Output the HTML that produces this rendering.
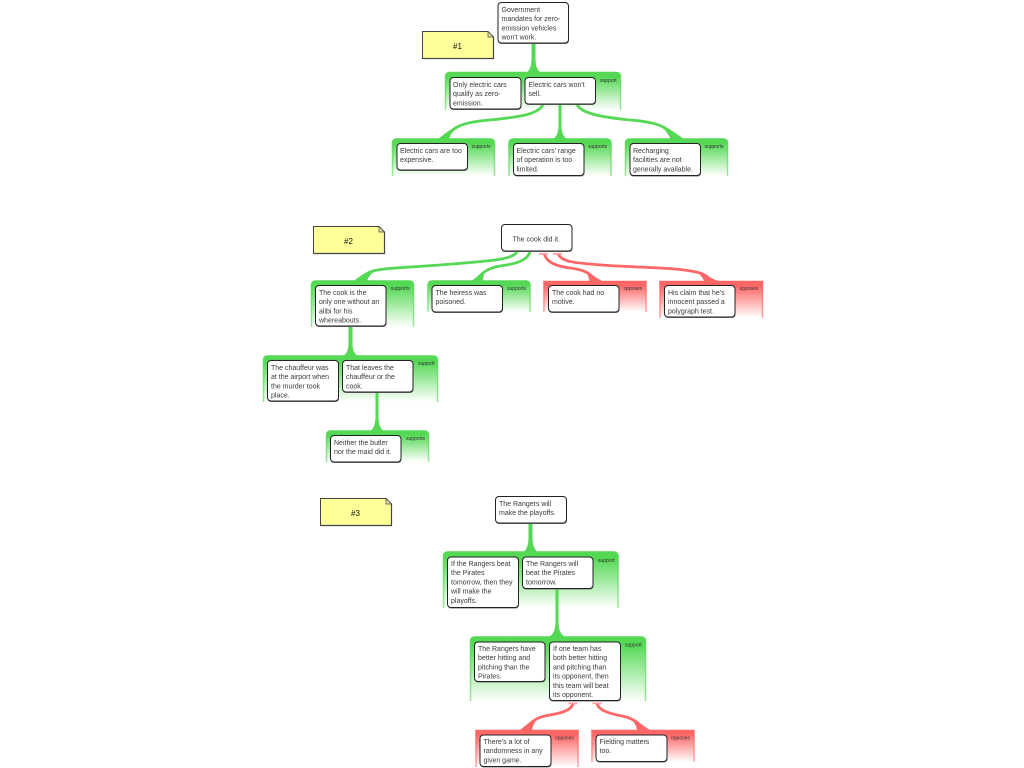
<!DOCTYPE html>
<html>
<head>
<meta charset="utf-8">
<style>
html,body{margin:0;padding:0;background:#fff;width:1024px;height:768px;overflow:hidden}
svg{display:block}
text{font-family:"Liberation Sans",sans-serif}
.t{font-size:7px;fill:#3a3a3a}
.l{font-size:5px;fill:#333}
.n{font-size:8px;fill:#111;text-anchor:middle}
.b{fill:#fff;stroke:#222;stroke-width:1}
.s{fill:#777}
.gg{fill:url(#gf);stroke:url(#gs);stroke-width:1.5}
.gr{fill:url(#rf);stroke:url(#rs);stroke-width:1.5}
.cg{fill:#55d955}
.cr{fill:#ff6666}
.lg{fill:none;stroke:#55d955;stroke-width:2.8}
.lr{fill:none;stroke:#ff6666;stroke-width:2.8}
.bar{fill:#ffa0a0}
.note{fill:#ffff99;stroke:#444;stroke-width:1}
</style>
</head>
<body>
<svg width="1024" height="768" viewBox="0 0 1024 768" xmlns="http://www.w3.org/2000/svg">
<defs>
<linearGradient id="gf" x1="0" y1="0" x2="0" y2="1"><stop offset="0" stop-color="#55d955"/><stop offset=".12" stop-color="#55d955"/><stop offset="1" stop-color="#fff"/></linearGradient>
<linearGradient id="rf" x1="0" y1="0" x2="0" y2="1"><stop offset="0" stop-color="#ff6666"/><stop offset=".12" stop-color="#ff6666"/><stop offset="1" stop-color="#fff"/></linearGradient>
<linearGradient id="gs" x1="0" y1="0" x2="0" y2="1"><stop offset="0" stop-color="#55d955"/><stop offset="1" stop-color="#99e899"/></linearGradient>
<linearGradient id="rs" x1="0" y1="0" x2="0" y2="1"><stop offset="0" stop-color="#ff6666"/><stop offset="1" stop-color="#ffa5a5"/></linearGradient>
</defs>

<!-- Notes -->
<path class="note" d="M422.5 31.5H488L493.5 37V58.5H422.5Z"/><path d="M488 31.5V37H493.5Z" fill="#e4e4a0" stroke="#444" stroke-width=".7"/>
<path d="M423 58.5H493.5V37" fill="none" stroke="#444" stroke-width="1.2"/>
<text class="n" x="457.5" y="49">#1</text>
<path class="note" d="M313.5 226.5H379L384.5 232V253.5H313.5Z"/><path d="M379 226.5V232H384.5Z" fill="#e4e4a0" stroke="#444" stroke-width=".7"/>
<path d="M314 253.5H384.5V232" fill="none" stroke="#444" stroke-width="1.2"/>
<text class="n" x="348.5" y="244">#2</text>
<path class="note" d="M320.5 498.5H386L391.5 504V525.5H320.5Z"/><path d="M386 498.5V504H391.5Z" fill="#e4e4a0" stroke="#444" stroke-width=".7"/>
<path d="M321 525.5H391.5V504" fill="none" stroke="#444" stroke-width="1.2"/>
<text class="n" x="355.5" y="516">#3</text>

<!-- Groups: tree 1 -->
<path class="gg" d="M445.5 110V77Q445.5 72.5 450 72.5H616Q620.5 72.5 620.5 77V110"/>
<path class="gg" d="M392.5 176V143.5Q392.5 139 397 139H490Q494.5 139 494.5 143.5V176"/>
<path class="gg" d="M509 176V143.5Q509 139 513.5 139H606.5Q611 139 611 143.5V176"/>
<path class="gg" d="M625.5 176V143.5Q625.5 139 630 139H723Q727.5 139 727.5 143.5V176"/>

<!-- Groups: tree 2 -->
<path class="gg" d="M311.5 327V285.5Q311.5 281 316 281H409Q413.5 281 413.5 285.5V327"/>
<path class="gg" d="M428 312V285.5Q428 281 432.5 281H525.5Q530 281 530 285.5V312"/>
<path class="gr" d="M544 312V281.5H646V312"/>
<path class="gr" d="M660 318V281.5H762.5V318"/>
<path class="gg" d="M263.5 402V360.5Q263.5 356 268 356H433Q437.5 356 437.5 360.5V402"/>
<path class="gg" d="M326.5 462V435.5Q326.5 431 331 431H424Q428.5 431 428.5 435.5V462"/>

<!-- Groups: tree 3 -->
<path class="gg" d="M443.5 608V556.5Q443.5 552 448 552H613.5Q618 552 618 556.5V608"/>
<path class="gg" d="M470.5 701V641.5Q470.5 637 475 637H641Q645.5 637 645.5 641.5V701"/>
<path class="gr" d="M476 767V730.5H578V767"/>
<path class="gr" d="M592 762V730.5H694V762"/>

<!-- Vertical connectors -->
<g class="cg">
<path d="M531.5 43H535.5V58C535.5 66 537 70 541 73H526C530 70 531.5 66 531.5 58Z"/>
<path d="M558.5 104H561.5V125C561.5 132 563 136 567 139.5H553C557 136 558.5 132 558.5 125Z"/>
<path d="M348.5 327H352.5V342C352.5 350 354 353 358 356.5H343C347 353 348.5 350 348.5 342Z"/>
<path d="M375.5 393H378.5V416C378.5 424 380 428 384 431.5H370C374 428 375.5 424 375.5 416Z"/>
<path d="M528.5 523H532.5V537C532.5 545 534 549 538 552.5H523C527 549 528.5 545 528.5 537Z"/>
<path d="M555.5 589H558.5V620C558.5 630 560 634 566 637.5H548C554 634 555.5 630 555.5 620Z"/>
</g>

<!-- Curved connectors -->
<g>
<path class="lg" d="M543 104C540 114 520 117 490 120C465 122 452 126 445 139"/>
<path class="cg" d="M461 125.4C452 127 445 134 437 139.5H449C450 134 455 129 461 125.4Z"/>
<path class="lg" d="M577 104C580 113 600 117 630 120C655 122 668 126 677 139"/>
<path class="cg" d="M659.5 125.4C668 127 675 133 685 139.5H671C668 134 665 129 659.5 125.4Z"/>
<path class="lg" d="M517 252C512 260 490 261 440 265C400 268 380 268 370 272C365 274 360 278 356 281"/>
<path class="cg" d="M376 270.3C368 272 362 277 352 281.5H367C368 277 372 273 376 270.3Z"/>
<path class="lg" d="M530 252C527 261 515 264 500 266C488 268 481 273 476 281"/>
<path class="cg" d="M485.4 271.3C480 273 477 277 471 281.5H483C483 277 484 274 485.4 271.3Z"/>
<path class="lr" d="M544 253C546 262 555 266 570 268C582 269.5 590 272 596 281"/>
<path class="cr" d="M585 271.6C590 273 595 277 603 281.5H589.5C589 277 587.5 274 585 271.6Z"/>
<path class="lr" d="M558 253C560 262 575 263 602 265C640 268 680 267 700 273C706 275 709 278 711 281"/>
<path class="cr" d="M697 272C704 274 711 278 719 281.5H704.5C703 278 700 274.5 697 272Z"/>
<path class="lr" d="M573 703C572 712 555 714 545 716C535 718 529 724 526 730"/>
<path class="cr" d="M538.3 718.3C530 720 525 727 519 730.5H532C532.5 726 535 721 538.3 718.3Z"/>
<path class="lr" d="M597 703C598 711 612 714 622 716C633 718 640 724 644 730"/>
<path class="cr" d="M629.8 718.3C638 720 644 727 651 730.5H637C636.5 726 634 721 629.8 718.3Z"/>
</g>
<g class="bar">
<rect x="539" y="253" width="9" height="1.8"/>
<rect x="553" y="253" width="9" height="1.8"/>
<rect x="568.5" y="702.5" width="9" height="1.8"/>
<rect x="592.5" y="702.5" width="9" height="1.8"/>
</g>

<!-- Group labels -->
<g class="l">
<text x="600" y="82">support</text>
<text x="471.5" y="148">supports</text>
<text x="588" y="148">supports</text>
<text x="704.5" y="148">supports</text>
<text x="390.5" y="290">supports</text>
<text x="507" y="290">supports</text>
<text x="623.5" y="290">opposes</text>
<text x="739.5" y="290">opposes</text>
<text x="418" y="365">support</text>
<text x="406" y="440">supports</text>
<text x="598" y="562">support</text>
<text x="625" y="646.5">support</text>
<text x="555" y="739.5">opposes</text>
<text x="671" y="739.5">opposes</text>
</g>

<!-- Boxes -->
<g>
<rect class="s" x="498" y="3" width="71" height="41" rx="3.5"/><rect class="b" x="498" y="2.5" width="70.5" height="40.5" rx="3.5"/>
<rect class="s" x="450" y="78" width="71.5" height="32" rx="3.5"/><rect class="b" x="450" y="77.5" width="71" height="31.5" rx="3.5"/>
<rect class="s" x="525" y="78" width="71" height="27" rx="3.5"/><rect class="b" x="525" y="77.5" width="70.5" height="26.5" rx="3.5"/>
<rect class="s" x="397" y="144" width="71" height="27" rx="3.5"/><rect class="b" x="397" y="143.5" width="70.5" height="26.5" rx="3.5"/>
<rect class="s" x="513.5" y="144" width="71" height="32.5" rx="3.5"/><rect class="b" x="513.5" y="143.5" width="70.5" height="32" rx="3.5"/>
<rect class="s" x="630" y="144" width="71" height="32.5" rx="3.5"/><rect class="b" x="630" y="143.5" width="70.5" height="32" rx="3.5"/>
<rect class="s" x="501.5" y="225" width="71" height="27" rx="3.5"/><rect class="b" x="501.5" y="224.5" width="70.5" height="26.5" rx="3.5"/>
<rect class="s" x="315.5" y="286" width="71" height="41" rx="3.5"/><rect class="b" x="315.5" y="285.5" width="70.5" height="40.5" rx="3.5"/>
<rect class="s" x="432" y="286" width="71" height="27" rx="3.5"/><rect class="b" x="432" y="285.5" width="70.5" height="26.5" rx="3.5"/>
<rect class="s" x="548.5" y="286" width="71" height="27" rx="3.5"/><rect class="b" x="548.5" y="285.5" width="70.5" height="26.5" rx="3.5"/>
<rect class="s" x="664.5" y="286" width="71" height="32" rx="3.5"/><rect class="b" x="664.5" y="285.5" width="70.5" height="31.5" rx="3.5"/>
<rect class="s" x="267.5" y="361" width="71.5" height="41" rx="3.5"/><rect class="b" x="267.5" y="360.5" width="71" height="40.5" rx="3.5"/>
<rect class="s" x="342.5" y="361" width="71" height="32" rx="3.5"/><rect class="b" x="342.5" y="360.5" width="70.5" height="31.5" rx="3.5"/>
<rect class="s" x="330.5" y="436" width="71" height="27" rx="3.5"/><rect class="b" x="330.5" y="435.5" width="70.5" height="26.5" rx="3.5"/>
<rect class="s" x="495.5" y="497" width="71.5" height="27" rx="3.5"/><rect class="b" x="495.5" y="496.5" width="71" height="26.5" rx="3.5"/>
<rect class="s" x="447.5" y="557.5" width="71.5" height="51" rx="3.5"/><rect class="b" x="447.5" y="557" width="71" height="50.5" rx="3.5"/>
<rect class="s" x="522.5" y="557.5" width="71" height="32" rx="3.5"/><rect class="b" x="522.5" y="557" width="70.5" height="31.5" rx="3.5"/>
<rect class="s" x="474.5" y="642.5" width="71" height="40" rx="3.5"/><rect class="b" x="474.5" y="642" width="70.5" height="39.5" rx="3.5"/>
<rect class="s" x="549.5" y="642.5" width="71.5" height="59" rx="3.5"/><rect class="b" x="549.5" y="642" width="71" height="58.5" rx="3.5"/>
<rect class="s" x="480" y="735.5" width="71.5" height="32" rx="3.5"/><rect class="b" x="480" y="735" width="71" height="31.5" rx="3.5"/>
<rect class="s" x="596" y="735.5" width="71.5" height="27" rx="3.5"/><rect class="b" x="596" y="735" width="71" height="26.5" rx="3.5"/>
</g>

<!-- Box text -->
<g class="t">
<text x="501.5" y="12">Government</text><text x="501.5" y="21.2">mandates for zero-</text><text x="501.5" y="30.4">emission vehicles</text><text x="501.5" y="39.6">won't work.</text>
<text x="453" y="87">Only electric cars</text><text x="453" y="96.2">qualify as zero-</text><text x="453" y="105.4">emission.</text>
<text x="528.5" y="87">Electric cars won't</text><text x="528.5" y="96.2">sell.</text>
<text x="400" y="153">Electric cars are too</text><text x="400" y="162.2">expensive.</text>
<text x="516.5" y="153">Electric cars' range</text><text x="516.5" y="162.2">of operation is too</text><text x="516.5" y="171.4">limited.</text>
<text x="633" y="153">Recharging</text><text x="633" y="162.2">facilities are not</text><text x="633" y="171.4">generally available.</text>
<text x="512.5" y="241.5">The cook did it.</text>
<text x="319" y="295">The cook is the</text><text x="319" y="304.2">only one without an</text><text x="319" y="313.4">alibi for his</text><text x="319" y="322.6">whereabouts.</text>
<text x="435.5" y="295">The heiress was</text><text x="435.5" y="304.2">poisoned.</text>
<text x="552" y="295">The cook had no</text><text x="552" y="304.2">motive.</text>
<text x="668" y="295">His claim that he's</text><text x="668" y="304.2">innocent passed a</text><text x="668" y="313.4">polygraph test.</text>
<text x="271" y="370">The chauffeur was</text><text x="271" y="379.2">at the airport when</text><text x="271" y="388.4">the murder took</text><text x="271" y="397.6">place.</text>
<text x="346" y="370">That leaves the</text><text x="346" y="379.2">chauffeur or the</text><text x="346" y="388.4">cook.</text>
<text x="334" y="445">Neither the butler</text><text x="334" y="454.2">nor the maid did it.</text>
<text x="499" y="506">The Rangers will</text><text x="499" y="515.2">make the playoffs.</text>
<text x="451" y="566">If the Rangers beat</text><text x="451" y="575.2">the Pirates</text><text x="451" y="584.4">tomorrow, then they</text><text x="451" y="593.6">will make the</text><text x="451" y="602.8">playoffs.</text>
<text x="526" y="566">The Rangers will</text><text x="526" y="575.2">beat the Pirates</text><text x="526" y="584.4">tomorrow.</text>
<text x="478" y="651">The Rangers have</text><text x="478" y="660.2">better hitting and</text><text x="478" y="669.4">pitching than the</text><text x="478" y="678.6">Pirates.</text>
<text x="553" y="651">If one team has</text><text x="553" y="660.2">both better hitting</text><text x="553" y="669.4">and pitching than</text><text x="553" y="678.6">its opponent, then</text><text x="553" y="687.8">this team will beat</text><text x="553" y="697">its opponent.</text>
<text x="483.5" y="744">There's a lot of</text><text x="483.5" y="753.2">randomness in any</text><text x="483.5" y="762.4">given game.</text>
<text x="599.5" y="744">Fielding matters</text><text x="599.5" y="753.2">too.</text>
</g>
</svg>
</body>
</html>
